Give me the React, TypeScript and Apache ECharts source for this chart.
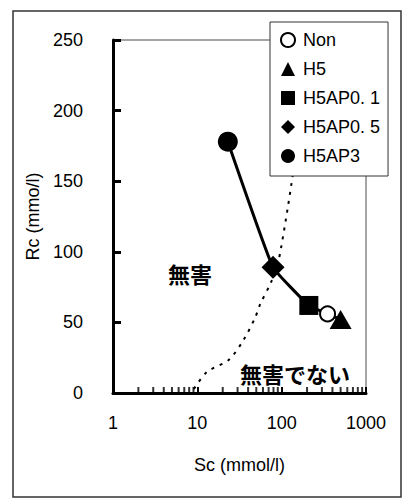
import React, { useEffect, useRef } from "react";
import * as echarts from "echarts";

// ---- data ----
const seriesNames = ["Non", "H5", "H5AP0. 1", "H5AP0. 5", "H5AP3"];
const scValues = [350, 500, 210, 79, 23];
const rcValues = [56, 52, 62, 89, 178];

// solid trend curve (ordered by Sc)
const curveSc = [23, 79, 210, 350, 500];
const curveRc = [178, 89, 62, 56, 52];

// dotted boundary curve
const boundarySc = [9.1, 13, 23.5, 35.3, 48.8, 55.7, 75, 90.8, 98.5, 118.7, 135, 155];
const boundaryRc = [2.8, 14.9, 23.4, 37.5, 53.8, 63, 78.6, 92.8, 103, 132, 154, 179];

const xTickLabels = ["1", "10", "100", "1000"];
const yTickLabels = ["0", "50", "100", "150", "200", "250"];
const minorTickValues = [
  2, 3, 4, 5, 6, 7, 8, 9,
  20, 30, 40, 50, 60, 70, 80, 90,
  200, 300, 400, 500, 600, 700, 800, 900,
];

const FONT = "'Liberation Sans', Arial, sans-serif";
const CJK = "'Noto Sans CJK JP', sans-serif";

const symbols = [
  { symbol: "circle", size: 15, color: "#fff", border: 2 },
  { symbol: "triangle", size: [22, 19], color: "#000", border: 0 },
  { symbol: "rect", size: 19, color: "#000", border: 0 },
  { symbol: "diamond", size: 23, color: "#000", border: 0 },
  { symbol: "circle", size: 20, color: "#000", border: 0 },
];

export default function App() {
  const ref = useRef<HTMLDivElement>(null);
  useEffect(() => {
    if (!ref.current) return;
    const chart = echarts.init(ref.current, undefined, { renderer: "svg" });
    const scatterSeries = seriesNames.map((name, i) => ({
      name,
      type: "scatter",
      data: [[scValues[i], rcValues[i]]],
      symbol: symbols[i].symbol,
      symbolSize: symbols[i].size,
      itemStyle: {
        color: symbols[i].color,
        borderColor: "#000",
        borderWidth: symbols[i].border,
        opacity: 1,
      },
      z: 5,
      silent: true,
    }));
    chart.setOption({
      animation: false,
      backgroundColor: "#fff",
      grid: {
        left: 113,
        right: 36,
        top: 40,
        bottom: 111,
        show: true,
        borderColor: "#888",
        borderWidth: 1.5,
        backgroundColor: "transparent",
      },
      legend: {
        data: seriesNames,
        orient: "vertical",
        left: 270,
        top: 22,
        padding: [9, 8, 11, 10],
        itemGap: 11,
        itemWidth: 14,
        itemHeight: 14,
        backgroundColor: "#fff",
        borderColor: "#333",
        borderWidth: 1,
        borderRadius: 0,
        selectedMode: false,
        textStyle: { fontFamily: FONT, fontSize: 18, color: "#000", padding: [0, 0, 0, 3] },
        z: 10,
      },
      xAxis: {
        type: "log",
        logBase: 10,
        min: 1,
        max: 1000,
        name: "Sc (mmol/l)",
        nameLocation: "middle",
        nameGap: 63,
        nameTextStyle: { fontFamily: FONT, fontSize: 18, color: "#000" },
        axisLine: { lineStyle: { color: "#000", width: 3 } },
        axisTick: { show: true, inside: true, length: 6, lineStyle: { color: "#000", width: 2 } },
        axisLabel: {
          fontFamily: FONT,
          fontSize: 18,
          color: "#000",
          margin: 21,
          formatter: (v: number) => {
            const idx = Math.round(Math.log10(v));
            return xTickLabels[idx] ?? String(v);
          },
        },
        splitLine: { show: false },
        minorTick: { show: false },
      },
      yAxis: {
        type: "value",
        min: 0,
        max: 250,
        interval: 50,
        name: "Rc (mmo/l)",
        nameLocation: "middle",
        nameGap: 68,
        nameTextStyle: { fontFamily: FONT, fontSize: 18, color: "#000" },
        axisLine: { show: true, lineStyle: { color: "#000", width: 3 } },
        axisTick: { show: true, inside: true, length: 8, lineStyle: { color: "#000", width: 3 } },
        axisLabel: {
          fontFamily: FONT,
          fontSize: 18,
          color: "#000",
          margin: 30,
          formatter: (v: number) => yTickLabels[Math.round(v / 50)] ?? String(v),
        },
        splitLine: { show: false },
      },
      series: [
        {
          name: "minorTicks",
          type: "scatter",
          data: minorTickValues.map((v) => [v, 0]),
          symbol: "rect",
          symbolSize: [2, 6],
          symbolOffset: [0, -3],
          itemStyle: { color: "#000" },
          silent: true,
          clip: false,
          z: 3,
        },
        {
          name: "boundary",
          type: "line",
          data: boundarySc.map((v, i) => [v, boundaryRc[i]]),
          smooth: 0.3,
          showSymbol: false,
          symbol: "none",
          lineStyle: { color: "#000", width: 2, type: [3, 6] },
          silent: true,
          z: 2,
        },
        {
          name: "trend",
          type: "line",
          data: curveSc.map((v, i) => [v, curveRc[i]]),
          smooth: 0.1,
          showSymbol: false,
          symbol: "none",
          lineStyle: { color: "#000", width: 3 },
          silent: true,
          z: 3,
        },
        ...scatterSeries,
      ],
      graphic: [
        {
          type: "rect",
          shape: { x: 13, y: 11, width: 388, height: 486 },
          style: { fill: "none", stroke: "#333", lineWidth: 1.5 },
          silent: true,
          z: 0,
        },
        {
          type: "text",
          x: 190,
          y: 273,
          style: {
            text: "無害",
            fontFamily: CJK,
            fontWeight: "bold",
            fontSize: 22,
            fill: "#000",
            align: "center",
            verticalAlign: "middle",
          },
          z: 6,
        },
        {
          type: "text",
          x: 295,
          y: 373,
          style: {
            text: "無害でない",
            fontFamily: CJK,
            fontWeight: "bold",
            fontSize: 22,
            fill: "#000",
            align: "center",
            verticalAlign: "middle",
          },
          z: 6,
        },
      ],
    });
    return () => chart.dispose();
  }, []);
  return (
    <div
      ref={ref}
      style={{ position: "absolute", left: 0, top: 0, width: 402, height: 504 }}
    />
  );
}
